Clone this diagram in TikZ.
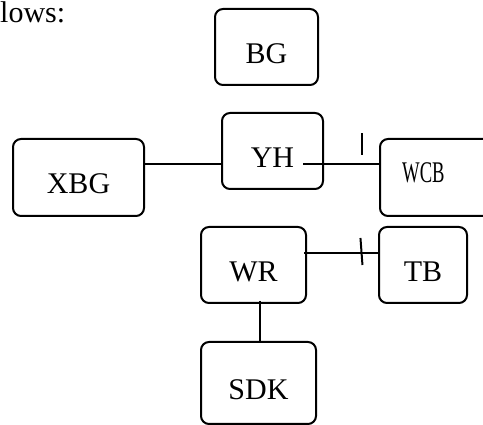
\documentclass[tikz,border=0pt]{standalone}
\usepackage{fontspec}
\setmainfont{Liberation Serif}
\newfontfamily\narrowserif[FakeStretch=0.62]{Liberation Serif}
\usetikzlibrary{calc}

\tikzset{
  unitbox/.style={draw, line width=2pt, rounded corners=8pt, inner sep=0pt,
    text height=33pt, text depth=0pt, font=\fontsize{30}{36}\selectfont},
  link/.style={line width=2pt},
  tick/.style={line width=2pt},
  caption/.style={inner sep=0pt, font=\fontsize{30}{36}\selectfont}
}

\begin{document}
\begin{tikzpicture}[x=1pt, y=-1pt]
  \clip (0,0) rectangle (483,425);

  % heading fragment
  \node[caption, anchor=base west] (head) at (0,23) {lows:};

  % boxes
  \node[unitbox, minimum width=103pt, minimum height=76pt] (BG)  at (266.5,47)  {BG};
  \node[unitbox, minimum width=101pt, minimum height=76pt] (YH)  at (272.5,151) {YH};
  \node[unitbox, minimum width=131pt, minimum height=77pt] (XBG) at (78.5,177.5) {XBG};
  \node[unitbox, minimum width=124pt, minimum height=77pt] (WCB) at (442,177.5) {};
  \node[caption, anchor=base west, font=\fontsize{30}{36}\narrowserif] (WCBt) at (402,183) {WCB};
  \node[unitbox, minimum width=105pt, minimum height=76pt] (WR)  at (253.5,265) {WR};
  \node[unitbox, minimum width=88pt,  minimum height=76pt] (TB)  at (423,265)   {TB};
  \node[unitbox, minimum width=115pt, minimum height=82pt] (SDK) at (258.5,383) {SDK};

  % connectors
  \draw[link] ([xshift=-2pt]XBG.east |- 0,164) -- (YH.west |- 0,164);

  \coordinate (yhtail) at (303,164);
  \draw[link] (yhtail) -- coordinate[pos=0.756] (t1) ([xshift=2pt]WCB.west |- yhtail);
  \draw[tick] ([yshift=9pt]t1) -- ([yshift=31pt]t1);

  \draw[link] ([xshift=-3pt]WR.east |- 0,253) -- coordinate[pos=0.756] (t2) ([xshift=2pt]TB.west |- 0,253);
  \draw[tick] ([shift={(-1pt,15pt)}]t2) -- ([shift={(1pt,-12pt)}]t2);

  \draw[link] ([yshift=3pt]WR.south -| 260,0) -- (SDK.north -| 260,0);
\end{tikzpicture}
\end{document}
